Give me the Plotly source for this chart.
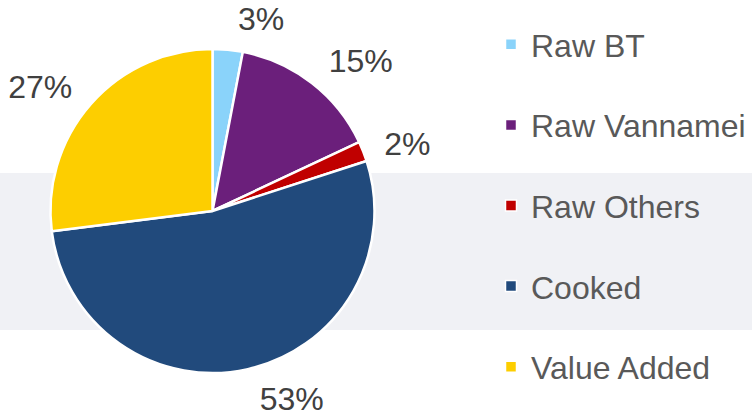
import plotly.graph_objects as go

categories = ["Raw BT", "Raw Vannamei", "Raw Others", "Cooked", "Value Added"]
values = [3, 15, 2, 53, 27]
colors = ["#8AD3FA", "#6B1F7B", "#C00000", "#214A7C", "#FDCE00"]

W, H = 752, 417
FONT = "Liberation Sans, Arial"
CX, CY = 212.5, 211
RD = 162          # domain half-size for the visible pie
RLD = RD + 13     # domain half-size for the (invisible) label pie

fig = go.Figure()
# invisible, slightly larger pie that only carries the outside percentage labels
fig.add_trace(go.Pie(
    labels=categories, values=values, sort=False, direction="clockwise", rotation=0,
    marker=dict(colors=["rgba(0,0,0,0)"] * len(values), line=dict(width=0)),
    textinfo="percent", textposition="outside",
    outsidetextfont=dict(family=FONT, size=32, color="#404040"),
    domain=dict(x=[(CX - RLD) / W, (CX + RLD) / W], y=[1 - (CY + RLD) / H, 1 - (CY - RLD) / H]),
    showlegend=False, hoverinfo="skip",
))
# visible pie
fig.add_trace(go.Pie(
    labels=categories, values=values, sort=False, direction="clockwise", rotation=0,
    marker=dict(colors=colors, line=dict(color="white", width=2.5)),
    textinfo="none",
    domain=dict(x=[(CX - RD) / W, (CX + RD) / W], y=[1 - (CY + RD) / H, 1 - (CY - RD) / H]),
    showlegend=False, hoverinfo="label+percent",
))
for i, (c, col) in enumerate(zip(categories, colors)):
    fig.add_trace(go.Scatter(
        x=[None], y=[None], mode="markers", name=c, legendgroup=f"g{i}",
        marker=dict(symbol="square", size=11, color=col, line=dict(color="white", width=1.5)),
    ))

fig.add_shape(type="rect", xref="paper", yref="paper", x0=-0.05, x1=1.05,
              y0=1 - 330 / H, y1=1 - 173 / H, fillcolor="#F0F1F5", line=dict(width=0),
              layer="below")

fig.update_layout(
    width=W, height=H, margin=dict(l=0, r=0, t=0, b=0, autoexpand=False),
    paper_bgcolor="white", plot_bgcolor="rgba(0,0,0,0)",
    xaxis=dict(visible=False), yaxis=dict(visible=False),
    legend=dict(x=491 / W, y=1 - 17 / H, xanchor="left", yanchor="top",
                font=dict(family=FONT, size=32, color="#595959"),
                tracegroupgap=36, bgcolor="rgba(0,0,0,0)", itemwidth=30),
)
fig.write_html("out.html", config={"displayModeBar": False},
               post_script="document.body.style.margin='0';")
